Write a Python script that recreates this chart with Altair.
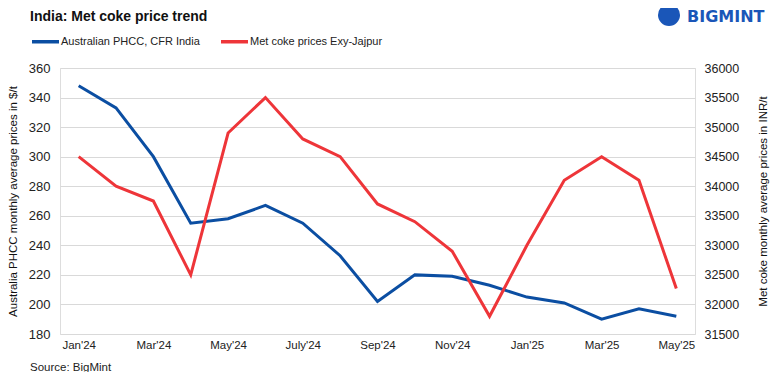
import altair as alt
import pandas as pd

months = ["Jan'24", "Feb'24", "Mar'24", "Apr'24", "May'24", "Jun'24", "July'24", "Aug'24",
          "Sep'24", "Oct'24", "Nov'24", "Dec'24", "Jan'25", "Feb'25", "Mar'25", "Apr'25", "May'25"]
phcc = [348, 333, 300, 255, 258, 267, 255, 233, 202, 220, 219, 213, 205, 201, 190, 197, 192]
metcoke = [34500, 34000, 33750, 32500, 34900, 35500, 34800, 34500, 33700, 33400, 32900,
           31800, 33000, 34100, 34500, 34100, 32270]
shown_months = ["Jan'24", "Mar'24", "May'24", "July'24", "Sep'24", "Nov'24", "Jan'25", "Mar'25", "May'25"]
series_names = ["Australian PHCC, CFR India", "Met coke prices Exy-Jajpur"]
series_colors = ["#0b4ea2", "#ee3539"]
left_ticks = list(range(180, 361, 20))
right_ticks = list(range(31500, 36001, 500))

df = pd.DataFrame({"month": months, "phcc": phcc, "metcoke": metcoke})

FONT = "Liberation Sans, Arial, sans-serif"

x = alt.X("month:N", sort=months,
          scale=alt.Scale(type="point", padding=0.5),
          axis=alt.Axis(values=shown_months, labelAngle=0, ticks=False, domain=False, grid=False,
                        title=None, labelFontSize=11.5, labelPadding=5, labelColor="#222",
                        labelFont=FONT))

color = alt.Color("s:N", scale=alt.Scale(domain=series_names, range=series_colors),
                  legend=alt.Legend(orient="none", legendX=-30, legendY=-42, direction="horizontal",
                                    symbolType="stroke", symbolSize=729, symbolStrokeWidth=3.5,
                                    labelFontSize=11, labelFont=FONT, labelColor="#222",
                                    labelOffset=0, columnPadding=14, padding=0, title=None))

left = alt.Chart(df).transform_calculate(s=f"'{series_names[0]}'").mark_line(strokeWidth=3).encode(
    x=x,
    y=alt.Y("phcc:Q", scale=alt.Scale(domain=[180, 360], nice=False, zero=False),
            axis=alt.Axis(values=left_ticks, grid=True, gridColor="#d9d9d9", domain=False, ticks=False,
                          labelPadding=10, labelFontSize=13, labelColor="#222", labelFont=FONT,
                          title="Australia PHCC monthly average prices in $/t",
                          titleFontWeight="normal", titleFontSize=11.5, titleFont=FONT,
                          titleColor="#111", titlePadding=10)),
    color=color,
)

right = alt.Chart(df).transform_calculate(s=f"'{series_names[1]}'").mark_line(strokeWidth=3).encode(
    x=x,
    y=alt.Y("metcoke:Q", scale=alt.Scale(domain=[31500, 36000], nice=False, zero=False),
            axis=alt.Axis(values=right_ticks, orient="right", grid=False, domain=False, ticks=False,
                          format="d",
                          labelPadding=9, labelFontSize=12.5, labelColor="#222", labelFont=FONT,
                          title="Met coke monthly average prices in INR/t",
                          titleFontWeight="normal", titleFontSize=11.5, titleFont=FONT,
                          titleColor="#111", titleAngle=270, titlePadding=30)),
    color=color,
)

title_txt = alt.Chart(pd.DataFrame({"t": ["India: Met coke price trend"]})).mark_text(
    align="left", baseline="middle", fontSize=14, fontWeight="bold", font=FONT, color="#111"
).encode(x=alt.value(-30), y=alt.value(-51), text="t:N")

source_txt = alt.Chart(pd.DataFrame({"t": ["Source: BigMint"]})).mark_text(
    align="left", baseline="middle", fontSize=11.5, font=FONT, color="#222"
).encode(x=alt.value(-30), y=alt.value(300), text="t:N")

logo_circle = alt.Chart(pd.DataFrame({"t": ["o"]})).mark_point(
    filled=True, size=484, color="#1a56b8", opacity=1, shape="circle"
).encode(x=alt.value(609), y=alt.value(-53))

logo_txt = alt.Chart(pd.DataFrame({"t": ["BIGMINT"]})).mark_text(
    align="left", baseline="middle", fontSize=16, fontWeight="bold", font="DejaVu Sans", color="#1a56b8"
).encode(x=alt.value(627), y=alt.value(-51), text="t:N")

chart = alt.layer(left, right).resolve_scale(y="independent")
chart = alt.layer(chart, title_txt, source_txt, logo_circle, logo_txt).properties(
    width=635, height=266,
    padding={"left": 52, "top": 60, "right": 77, "bottom": 38},
    autosize=alt.AutoSizeParams(type="none"),
).configure_view(stroke=None).configure(font=FONT)

chart.save("out.html", embed_options={"renderer": "svg", "actions": False})
